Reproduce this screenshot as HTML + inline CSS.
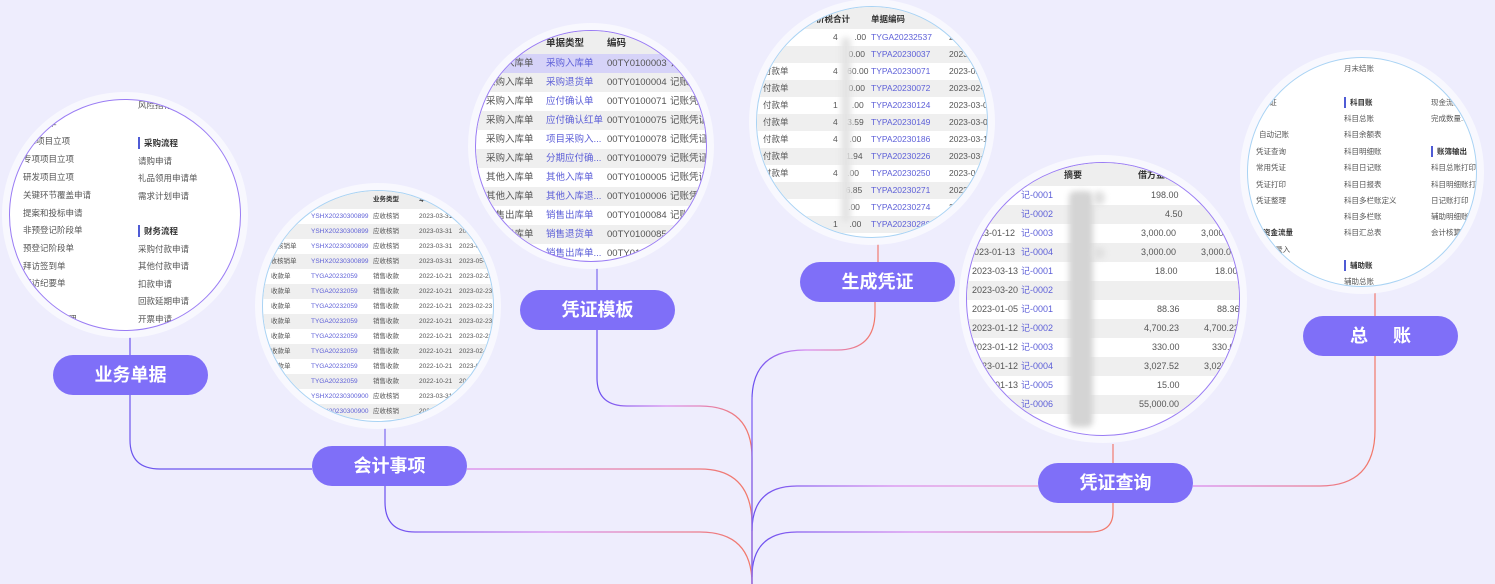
<!DOCTYPE html>
<html><head><meta charset="utf-8"><style>
*{margin:0;padding:0;box-sizing:border-box}
body{width:1495px;height:584px;background:#eeedfd;position:relative;overflow:hidden;font-family:"Liberation Sans","Noto Sans CJK SC",sans-serif}
.halo{position:absolute;border-radius:50%;background:#f8f8fe}
.c{position:absolute;border-radius:50%;background:#fff;overflow:hidden;border:1.5px solid #9a7cf4}
.c.b{border-color:#a9d3f4}
.w{position:absolute;width:1495px;height:584px}
.r{position:absolute;color:#555;white-space:nowrap}
.r span{position:absolute;top:0}
.g{background:#efefef}
.h{background:#eeeeee;color:#333;font-weight:bold}
.l{color:#5d5fd8}
.bl{position:absolute;background:#d6d6d6;filter:blur(3px);border-radius:6px}
.t{position:absolute;color:#555;white-space:nowrap}
.t.k{color:#333;font-weight:bold;border-left:2px solid #4f5bd5;padding-left:4px}
.btn{position:absolute;height:40px;width:155px;border-radius:20px;background:#7f6ff8;color:#fff;font-weight:bold;font-size:18px;text-align:center;line-height:40px}
svg{position:absolute;left:0;top:0}
</style></head><body>
<svg width="1495" height="584" fill="none" stroke-width="1.2">
<defs>
<linearGradient id="g1"><stop offset="0" stop-color="#d985ee"/><stop offset="1" stop-color="#f27868"/></linearGradient>
<linearGradient id="g2"><stop offset="0" stop-color="#6a4ff0"/><stop offset=".45" stop-color="#d98bee"/><stop offset="1" stop-color="#f27868"/></linearGradient>
<linearGradient id="g3"><stop offset="0" stop-color="#6a4ff0"/><stop offset=".5" stop-color="#d98bee"/><stop offset="1" stop-color="#f0a0c8"/></linearGradient>
</defs>
<path d="M130 337V355M130 395V440Q130 469 160 469H312" stroke="#6c55ee"/>
<path d="M385 428V446M597 268V290" stroke="#7d6af0"/>
<path d="M467 469H700Q752 469 752 525V584" stroke="url(#g1)"/>
<path d="M597 330V378Q597 406 627 406H700Q752 406 752 458V584" stroke="url(#g2)"/>
<path d="M385 486V502Q385 532 415 532H700Q752 532 752 584" stroke="url(#g2)"/>
<path d="M878 243V262M1113 444V463M1375 293V316" stroke="#f27c70"/>
<path d="M875 302V312Q875 350 837 350H805Q752 350 752 400V584" stroke="url(#g2)"/>
<path d="M1038 486H797Q752 486 752 531" stroke="url(#g3)"/>
<path d="M1113 503V512Q1113 532 1090 532H797Q752 532 752 577" stroke="url(#g2)"/>
<path d="M1193 486H1320Q1375 486 1375 430V356" stroke="url(#g1)"/>
<path d="M752 397V584" stroke="#8a6ff2"/>
</svg>

<!-- C1 -->
<div class="halo" style="left:2px;top:92px;width:246px;height:246px"></div>
<div class="c" style="left:9px;top:99px;width:232px;height:232px"><div class="w" style="left:-9px;top:-99px;font-size:8.5px">
<div class="t" style="left:137px;top:98px">风险指标...</div>
<div class="t" style="left:40px;top:116px">...单</div>
<div class="t" style="left:28px;top:134px">...项目立项</div>
<div class="t" style="left:22px;top:152px">专项项目立项</div>
<div class="t" style="left:22px;top:170px">研发项目立项</div>
<div class="t" style="left:22px;top:188px">关键环节覆盖申请</div>
<div class="t" style="left:22px;top:206px">提案和投标申请</div>
<div class="t" style="left:22px;top:223px">非预登记阶段单</div>
<div class="t" style="left:22px;top:241px">预登记阶段单</div>
<div class="t" style="left:22px;top:259px">拜访签到单</div>
<div class="t" style="left:22px;top:276px">拜访纪要单</div>
<div class="t" style="left:60px;top:312px">...理</div>
<div class="t k" style="left:137px;top:136px">采购流程</div>
<div class="t" style="left:137px;top:154px">请购申请</div>
<div class="t" style="left:137px;top:171px">礼品领用申请单</div>
<div class="t" style="left:137px;top:189px">需求计划申请</div>
<div class="t k" style="left:137px;top:224px">财务流程</div>
<div class="t" style="left:137px;top:242px">采购付款申请</div>
<div class="t" style="left:137px;top:259px">其他付款申请</div>
<div class="t" style="left:137px;top:277px">扣款申请</div>
<div class="t" style="left:137px;top:294px">回款延期申请</div>
<div class="t" style="left:137px;top:312px">开票申请</div>
</div></div>

<!-- C2 -->
<div class="halo" style="left:255px;top:183px;width:246px;height:246px"></div>
<div class="c b" style="left:262px;top:190px;width:232px;height:232px"><div class="w" style="left:-262px;top:-190px;font-size:6.5px">
<div class="r h" style="left:255px;top:190px;width:250px;height:18px;line-height:18px"><span style="left:117px">业务类型</span><span style="left:163px">单...</span></div>
<div class="r" style="left:255px;top:208px;width:250px;height:15px;line-height:15px"><span class="l" style="left:55px">YSHX20230300899</span><span style="left:117px">应收核销</span><span style="left:163px">2023-03-31</span></div>
<div class="r g" style="left:255px;top:223px;width:250px;height:15px;line-height:15px"><span style="left:10px">单</span><span class="l" style="left:55px">YSHX20230300899</span><span style="left:117px">应收核销</span><span style="left:163px">2023-03-31</span><span style="left:203px">202</span></div>
<div class="r" style="left:255px;top:238px;width:250px;height:15px;line-height:15px"><span style="left:8px">应收核销单</span><span class="l" style="left:55px">YSHX20230300899</span><span style="left:117px">应收核销</span><span style="left:163px">2023-03-31</span><span style="left:203px">2023-05</span></div>
<div class="r g" style="left:255px;top:253px;width:250px;height:15px;line-height:15px"><span style="left:8px">应收核销单</span><span class="l" style="left:55px">YSHX20230300899</span><span style="left:117px">应收核销</span><span style="left:163px">2023-03-31</span><span style="left:203px">2023-05-0</span></div>
<div class="r" style="left:255px;top:268px;width:250px;height:15px;line-height:15px"><span style="left:15px">收款单</span><span class="l" style="left:55px">TYGA20232059</span><span style="left:117px">销售收款</span><span style="left:163px">2022-10-21</span><span style="left:203px">2023-02-23</span></div>
<div class="r g" style="left:255px;top:283px;width:250px;height:15px;line-height:15px"><span style="left:15px">收款单</span><span class="l" style="left:55px">TYGA20232059</span><span style="left:117px">销售收款</span><span style="left:163px">2022-10-21</span><span style="left:203px">2023-02-23</span></div>
<div class="r" style="left:255px;top:298px;width:250px;height:15px;line-height:15px"><span style="left:15px">收款单</span><span class="l" style="left:55px">TYGA20232059</span><span style="left:117px">销售收款</span><span style="left:163px">2022-10-21</span><span style="left:203px">2023-02-23</span></div>
<div class="r g" style="left:255px;top:313px;width:250px;height:15px;line-height:15px"><span style="left:15px">收款单</span><span class="l" style="left:55px">TYGA20232059</span><span style="left:117px">销售收款</span><span style="left:163px">2022-10-21</span><span style="left:203px">2023-02-23</span></div>
<div class="r" style="left:255px;top:328px;width:250px;height:15px;line-height:15px"><span style="left:15px">收款单</span><span class="l" style="left:55px">TYGA20232059</span><span style="left:117px">销售收款</span><span style="left:163px">2022-10-21</span><span style="left:203px">2023-02-23</span></div>
<div class="r g" style="left:255px;top:343px;width:250px;height:15px;line-height:15px"><span style="left:15px">收款单</span><span class="l" style="left:55px">TYGA20232059</span><span style="left:117px">销售收款</span><span style="left:163px">2022-10-21</span><span style="left:203px">2023-02-23</span></div>
<div class="r" style="left:255px;top:358px;width:250px;height:15px;line-height:15px"><span style="left:15px">收款单</span><span class="l" style="left:55px">TYGA20232059</span><span style="left:117px">销售收款</span><span style="left:163px">2022-10-21</span><span style="left:203px">2023-02-23</span></div>
<div class="r g" style="left:255px;top:373px;width:250px;height:15px;line-height:15px"><span class="l" style="left:55px">TYGA20232059</span><span style="left:117px">销售收款</span><span style="left:163px">2022-10-21</span><span style="left:203px">202</span></div>
<div class="r" style="left:255px;top:388px;width:250px;height:15px;line-height:15px"><span class="l" style="left:55px">YSHX20230300900</span><span style="left:117px">应收核销</span><span style="left:163px">2023-03-31</span></div>
<div class="r g" style="left:255px;top:403px;width:250px;height:15px;line-height:15px"><span class="l" style="left:55px">YSHX20230300900</span><span style="left:117px">应收核销</span><span style="left:163px">2023</span></div>
</div></div>

<!-- C3 -->
<div class="halo" style="left:468px;top:23px;width:246px;height:246px"></div>
<div class="c" style="left:475px;top:30px;width:232px;height:232px"><div class="w" style="left:-475px;top:-30px;font-size:9.5px">
<div class="r h" style="left:470px;top:30px;width:245px;height:23px;line-height:26px"><span style="left:75px">单据类型</span><span style="left:136px">编码</span></div>
<div class="r" style="left:470px;top:53px;width:245px;height:19px;line-height:19px;background:#d6d3f8"><span style="left:15px">采购入库单</span><span class="l" style="left:75px">采购入库单</span><span style="left:136px">00TY0100003</span><span style="left:199px">记账凭证</span></div>
<div class="r g" style="left:470px;top:72px;width:245px;height:19px;line-height:19px"><span style="left:15px">采购入库单</span><span class="l" style="left:75px">采购退货单</span><span style="left:136px">00TY0100004</span><span style="left:199px">记账凭证</span></div>
<div class="r" style="left:470px;top:91px;width:245px;height:19px;line-height:19px"><span style="left:15px">采购入库单</span><span class="l" style="left:75px">应付确认单</span><span style="left:136px">00TY0100071</span><span style="left:199px">记账凭证</span></div>
<div class="r g" style="left:470px;top:110px;width:245px;height:19px;line-height:19px"><span style="left:15px">采购入库单</span><span class="l" style="left:75px">应付确认红单</span><span style="left:136px">00TY0100075</span><span style="left:199px">记账凭证</span></div>
<div class="r" style="left:470px;top:129px;width:245px;height:19px;line-height:19px"><span style="left:15px">采购入库单</span><span class="l" style="left:75px">项目采购入...</span><span style="left:136px">00TY0100078</span><span style="left:199px">记账凭证</span></div>
<div class="r g" style="left:470px;top:148px;width:245px;height:19px;line-height:19px"><span style="left:15px">采购入库单</span><span class="l" style="left:75px">分期应付确...</span><span style="left:136px">00TY0100079</span><span style="left:199px">记账凭证</span></div>
<div class="r" style="left:470px;top:167px;width:245px;height:19px;line-height:19px"><span style="left:15px">其他入库单</span><span class="l" style="left:75px">其他入库单</span><span style="left:136px">00TY0100005</span><span style="left:199px">记账凭证</span></div>
<div class="r g" style="left:470px;top:186px;width:245px;height:19px;line-height:19px"><span style="left:15px">其他入库单</span><span class="l" style="left:75px">其他入库退...</span><span style="left:136px">00TY0100006</span><span style="left:199px">记账凭证</span></div>
<div class="r" style="left:470px;top:205px;width:245px;height:19px;line-height:19px"><span style="left:15px">销售出库单</span><span class="l" style="left:75px">销售出库单</span><span style="left:136px">00TY0100084</span><span style="left:199px">记账凭证</span></div>
<div class="r g" style="left:470px;top:224px;width:245px;height:19px;line-height:19px"><span style="left:15px">销售出库单</span><span class="l" style="left:75px">销售退货单</span><span style="left:136px">00TY0100085</span></div>
<div class="r" style="left:470px;top:243px;width:245px;height:19px;line-height:19px"><span class="l" style="left:75px">销售出库单...</span><span style="left:136px">00TY0100086</span></div>
</div></div>

<!-- C4 -->
<div class="halo" style="left:749px;top:-1px;width:246px;height:246px"></div>
<div class="c b" style="left:756px;top:6px;width:232px;height:232px"><div class="w" style="left:-756px;top:-6px;font-size:8.5px">
<div class="r h" style="left:750px;top:6px;width:250px;height:22px;line-height:24px"><span style="left:65px">价税合计</span><span style="left:120px">单据编码</span></div>
<div class="r" style="left:750px;top:28px;width:250px;height:17px;line-height:17px"><span style="left:82px">4&nbsp;&nbsp;&nbsp;&nbsp;&nbsp;&nbsp;&nbsp;.00</span><span class="l" style="left:120px">TYGA20232537</span><span style="left:198px">2023-0</span></div>
<div class="r g" style="left:750px;top:45px;width:250px;height:17px;line-height:17px"><span style="left:88px">&nbsp;&nbsp;&nbsp;&nbsp;0.00</span><span class="l" style="left:120px">TYPA20230037</span><span style="left:198px">2023-02-23</span></div>
<div class="r" style="left:750px;top:62px;width:250px;height:17px;line-height:17px"><span style="left:12px">付款单</span><span style="left:82px">4&nbsp;&nbsp;&nbsp;&nbsp;60.00</span><span class="l" style="left:120px">TYPA20230071</span><span style="left:198px">2023-02-23</span></div>
<div class="r g" style="left:750px;top:79px;width:250px;height:17px;line-height:17px"><span style="left:12px">付款单</span><span style="left:88px">&nbsp;&nbsp;&nbsp;&nbsp;0.00</span><span class="l" style="left:120px">TYPA20230072</span><span style="left:198px">2023-02-23</span></div>
<div class="r" style="left:750px;top:96px;width:250px;height:17px;line-height:17px"><span style="left:12px">付款单</span><span style="left:82px">1&nbsp;&nbsp;&nbsp;&nbsp;&nbsp;&nbsp;.00</span><span class="l" style="left:120px">TYPA20230124</span><span style="left:198px">2023-03-01</span></div>
<div class="r g" style="left:750px;top:113px;width:250px;height:17px;line-height:17px"><span style="left:12px">付款单</span><span style="left:82px">4&nbsp;&nbsp;&nbsp;&nbsp;3.59</span><span class="l" style="left:120px">TYPA20230149</span><span style="left:198px">2023-03-03</span></div>
<div class="r" style="left:750px;top:130px;width:250px;height:17px;line-height:17px"><span style="left:12px">付款单</span><span style="left:82px">4&nbsp;&nbsp;&nbsp;&nbsp;&nbsp;.00</span><span class="l" style="left:120px">TYPA20230186</span><span style="left:198px">2023-03-14</span></div>
<div class="r g" style="left:750px;top:147px;width:250px;height:17px;line-height:17px"><span style="left:12px">付款单</span><span style="left:88px">&nbsp;&nbsp;&nbsp;1.94</span><span class="l" style="left:120px">TYPA20230226</span><span style="left:198px">2023-03-20</span></div>
<div class="r" style="left:750px;top:164px;width:250px;height:17px;line-height:17px"><span style="left:12px">付款单</span><span style="left:82px">4&nbsp;&nbsp;&nbsp;&nbsp;.00</span><span class="l" style="left:120px">TYPA20230250</span><span style="left:198px">2023-03-20</span></div>
<div class="r g" style="left:750px;top:181px;width:250px;height:17px;line-height:17px"><span style="left:90px">&nbsp;&nbsp;6.85</span><span class="l" style="left:120px">TYPA20230271</span><span style="left:198px">2023-03-2</span></div>
<div class="r" style="left:750px;top:198px;width:250px;height:17px;line-height:17px"><span style="left:90px">&nbsp;&nbsp;&nbsp;.00</span><span class="l" style="left:120px">TYPA20230274</span><span style="left:198px">2023</span></div>
<div class="r g" style="left:750px;top:215px;width:250px;height:17px;line-height:17px"><span style="left:82px">1&nbsp;&nbsp;&nbsp;&nbsp;&nbsp;.00</span><span class="l" style="left:120px">TYPA20230280</span></div>
<div class="bl" style="left:840px;top:36px;width:10px;height:185px;background:#e4e4e4"></div>
</div></div>

<!-- C5 -->
<div class="halo" style="left:959px;top:155px;width:288px;height:288px"></div>
<div class="c" style="left:966px;top:162px;width:274px;height:274px"><div class="w" style="left:-966px;top:-162px;font-size:9px">
<div class="r h" style="left:960px;top:160px;width:290px;height:25px;line-height:28px"><span style="left:103px">摘要</span><span style="left:177px">借方金额</span></div>
<div class="r" style="left:960px;top:185px;width:290px;height:19px;line-height:19px"><span class="l" style="left:60px">记-0001</span><span style="left:190px">198.00</span></div>
<div class="r g" style="left:960px;top:204px;width:290px;height:19px;line-height:19px"><span style="left:22px">-10</span><span class="l" style="left:60px">记-0002</span><span style="left:204px">4.50</span></div>
<div class="r" style="left:960px;top:223px;width:290px;height:19px;line-height:19px"><span style="left:8px">2023-01-12</span><span class="l" style="left:60px">记-0003</span><span style="left:180px">3,000.00</span><span style="left:240px">3,000.00</span></div>
<div class="r g" style="left:960px;top:242px;width:290px;height:19px;line-height:19px"><span style="left:8px">2023-01-13</span><span class="l" style="left:60px">记-0004</span><span style="left:180px">3,000.00</span><span style="left:240px">3,000.00</span></div>
<div class="r" style="left:960px;top:261px;width:290px;height:19px;line-height:19px"><span style="left:11px">2023-03-13</span><span class="l" style="left:60px">记-0001</span><span style="left:194px">18.00</span><span style="left:254px">18.00</span></div>
<div class="r g" style="left:960px;top:280px;width:290px;height:19px;line-height:19px"><span style="left:11px">2023-03-20</span><span class="l" style="left:60px">记-0002</span></div>
<div class="r" style="left:960px;top:299px;width:290px;height:19px;line-height:19px"><span style="left:11px">2023-01-05</span><span class="l" style="left:60px">记-0001</span><span style="left:196px">88.36</span><span style="left:256px">88.36</span></div>
<div class="r g" style="left:960px;top:318px;width:290px;height:19px;line-height:19px"><span style="left:11px">2023-01-12</span><span class="l" style="left:60px">记-0002</span><span style="left:183px">4,700.23</span><span style="left:243px">4,700.23</span></div>
<div class="r" style="left:960px;top:337px;width:290px;height:19px;line-height:19px"><span style="left:11px">2023-01-12</span><span class="l" style="left:60px">记-0003</span><span style="left:191px">330.00</span><span style="left:251px">330.00</span></div>
<div class="r g" style="left:960px;top:356px;width:290px;height:19px;line-height:19px"><span style="left:11px">2023-01-12</span><span class="l" style="left:60px">记-0004</span><span style="left:183px">3,027.52</span><span style="left:243px">3,027.52</span></div>
<div class="r" style="left:960px;top:375px;width:290px;height:19px;line-height:19px"><span style="left:11px">2023-01-13</span><span class="l" style="left:60px">记-0005</span><span style="left:196px">15.00</span></div>
<div class="r g" style="left:960px;top:394px;width:290px;height:19px;line-height:19px"><span class="l" style="left:60px">记-0006</span><span style="left:178px">55,000.00</span></div>
<div class="bl" style="left:1068px;top:190px;width:24px;height:236px;background:#d4d4d4"></div>
<div class="bl" style="left:1092px;top:190px;width:12px;height:14px;background:#e0e0e0"></div>
<div class="bl" style="left:1092px;top:246px;width:12px;height:12px;background:#e0e0e0"></div>
</div></div>

<!-- C6 -->
<div class="halo" style="left:1240px;top:50px;width:244px;height:244px"></div>
<div class="c b" style="left:1247px;top:57px;width:230px;height:230px"><div class="w" style="left:-1247px;top:-57px;font-size:7.5px">
<div class="t" style="left:1343px;top:62px">月末结账</div>
<div class="t k" style="left:1343px;top:96px">科目账</div>
<div class="t" style="left:1343px;top:112px">科目总账</div>
<div class="t" style="left:1343px;top:128px">科目余额表</div>
<div class="t" style="left:1343px;top:145px">科目明细账</div>
<div class="t" style="left:1343px;top:161px">科目日记账</div>
<div class="t" style="left:1343px;top:178px">科目日报表</div>
<div class="t" style="left:1343px;top:194px">科目多栏账定义</div>
<div class="t" style="left:1343px;top:210px">科目多栏账</div>
<div class="t" style="left:1343px;top:226px">科目汇总表</div>
<div class="t k" style="left:1343px;top:259px">辅助账</div>
<div class="t" style="left:1343px;top:275px">辅助总账</div>
<div class="t" style="left:1262px;top:96px">...证</div>
<div class="t" style="left:1258px;top:128px">自动记账</div>
<div class="t" style="left:1255px;top:145px">凭证查询</div>
<div class="t" style="left:1255px;top:161px">常用凭证</div>
<div class="t" style="left:1255px;top:178px">凭证打印</div>
<div class="t" style="left:1255px;top:194px">凭证整理</div>
<div class="t" style="left:1262px;top:226px;font-weight:bold;color:#333">资金流量</div>
<div class="t" style="left:1268px;top:243px">...录入</div>
<div class="t" style="left:1430px;top:96px">现金流量</div>
<div class="t" style="left:1430px;top:112px">完成数量...</div>
<div class="t k" style="left:1430px;top:145px">账簿输出</div>
<div class="t" style="left:1430px;top:161px">科目总账打印</div>
<div class="t" style="left:1430px;top:178px">科目明细账打印</div>
<div class="t" style="left:1430px;top:194px">日记账打印</div>
<div class="t" style="left:1430px;top:210px">辅助明细账打印</div>
<div class="t" style="left:1430px;top:226px">会计核算报</div>
</div></div>

<div class="btn" style="left:53px;top:355px">业务单据</div>
<div class="btn" style="left:312px;top:446px">会计事项</div>
<div class="btn" style="left:520px;top:290px">凭证模板</div>
<div class="btn" style="left:800px;top:262px">生成凭证</div>
<div class="btn" style="left:1038px;top:463px">凭证查询</div>
<div class="btn" style="left:1303px;top:316px;letter-spacing:10px;text-indent:10px">总 账</div>
</body></html>
